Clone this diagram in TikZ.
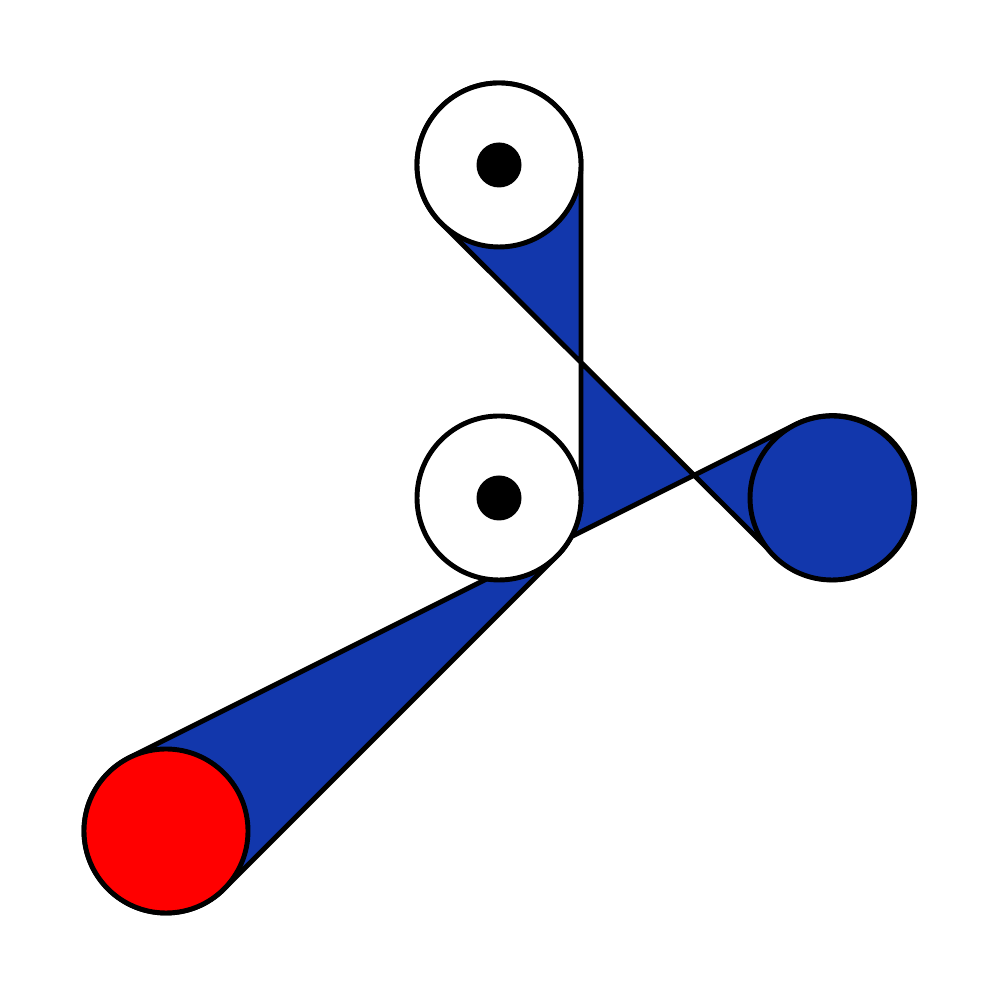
\documentclass[tikz,border=0pt]{standalone}
\usepackage{tikz}
\usetikzlibrary{arrows,shapes}
\pgfdeclarelayer{background}
\pgfsetlayers{background,main}
\definecolor{beltblue}{RGB}{18,55,172}
\tikzstyle{pulley}=[circle,draw=black,line width=1.4pt,minimum size=1.64cm,inner sep=0pt,outer sep=0pt]
\tikzstyle{idle pulley} = [pulley, fill=white]
\tikzstyle{axle}=[circle,fill=black,minimum size=0.45cm,inner sep=0pt]
\tikzstyle{belt} = [draw=black,fill=beltblue,line width=1.4pt,line join=round]

\begin{document}
\begin{tikzpicture}
    \useasboundingbox (0,0) rectangle (10,10);
    % Draw the pulleys
    % First the two idle ones with their axles
    \foreach \pos/\name in {{(4.99,8.35)/top}, {(4.99,5.02)/mid}}
        \node[idle pulley] (\name) at \pos {};
    \foreach \name in {top, mid}
        \node[axle] (\name-axle) at (\name.center) {};

    \node[pulley, fill=beltblue] (drive) at (8.32,5.02) {};
    \node[pulley, fill=red] (load) at (1.66,1.69) {};

    % Wrap the belt round them, behind the pulleys
    \begin{pgfonlayer}{background}
        \path[belt] (top.0) -- (mid.0) arc[start angle=0, end angle=-45, radius=0.82cm]
            -- (load.-45) arc[start angle=-45, end angle=-243.43, radius=0.82cm]
            -- (drive.116.57) arc[start angle=116.57, end angle=-135, radius=0.82cm]
            -- (top.225) arc[start angle=225, end angle=0, radius=0.82cm] -- cycle;
    \end{pgfonlayer}
\end{tikzpicture}
\end{document}
